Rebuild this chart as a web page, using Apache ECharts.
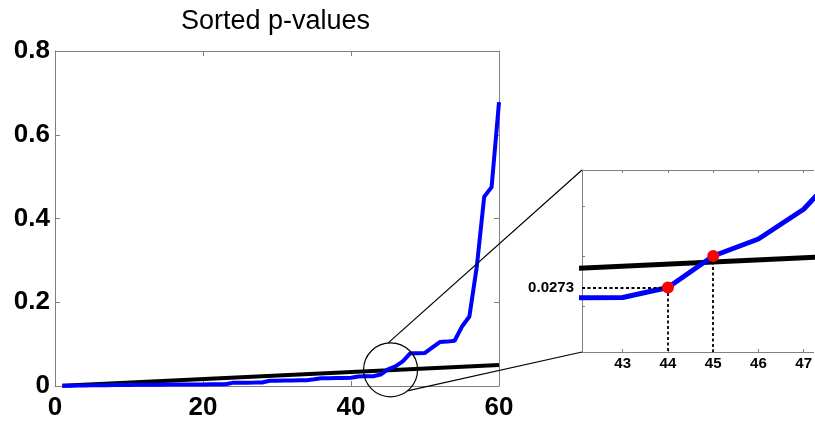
<!DOCTYPE html>
<html>
<head>
<meta charset="utf-8">
<script src="https://cdn.jsdelivr.net/npm/echarts@6/dist/echarts.min.js"></script>
<style>
  html, body { margin: 0; padding: 0; background: #fff; }
  #chart { width: 815px; height: 426px; }
</style>
</head>
<body>
<div id="chart"></div>
<script>
// sorted p-values, rank 1..60
var pValues = [
  0.0005, 0.0008, 0.0010, 0.0012, 0.0015, 0.0018, 0.0020, 0.0022, 0.0024, 0.0026,
  0.0028, 0.0030, 0.0031, 0.0032, 0.0033, 0.0034, 0.0035, 0.0036, 0.0037, 0.0038,
  0.0039, 0.0040, 0.0042, 0.0075, 0.0078, 0.0080, 0.0082, 0.0085, 0.0125, 0.0127,
  0.0130, 0.0132, 0.0135, 0.0138, 0.0160, 0.0185, 0.0187, 0.0190, 0.0192, 0.0195,
  0.0225, 0.0232, 0.0233, 0.0273, 0.0399, 0.0467, 0.0586, 0.0780, 0.0780, 0.0790,
  0.0920, 0.1050, 0.1060, 0.1080, 0.1420, 0.1660, 0.2850, 0.4520, 0.4750, 0.6780
];
// threshold line (two end points)
var thresholdLine = [[1, 0.0008], [60, 0.05]];
// the two highlighted points in the zoom panel
var highlightPoints = [[44, 0.0273], [45, 0.0399]];
var cutoffLabel = '0.0273';

var mainXRange = [0, 60];
var mainYRange = [0, 0.8];
var insetXRange = [42.1, 47.22];   // panel is cut off by the right edge of the picture
var insetYRange = [0.0015, 0.0743];
var insetXTicks = [43, 44, 45, 46, 47];
var insetYTicks = [0.02, 0.04, 0.06];
var zoomCenter = [45.35, 0.0387];

var FONT = 'Liberation Sans, Arial, Helvetica, sans-serif';
var BOX = '#808080';

var pairs = pValues.map(function (v, i) { return [i + 1, v]; });

var chart = echarts.init(document.getElementById('chart'));

function boxAxis(extra) {
  var base = {
    type: 'value',
    splitLine: { show: false },
    axisLine: { show: true, onZero: false, lineStyle: { color: BOX, width: 1 } },
    axisTick: { show: true, inside: true, length: 5, lineStyle: { color: BOX } },
    axisLabel: { show: false }
  };
  return Object.assign(base, extra);
}

var mainLabel = { show: true, color: '#000', fontSize: 26, fontWeight: 'bold', fontFamily: FONT };

var option = {
  animation: false,
  title: {
    text: 'Sorted p-values',
    left: 181,
    top: 8,
    padding: 0,
    textStyle: { fontSize: 27, fontWeight: 'normal', color: '#000', fontFamily: FONT }
  },
  grid: [
    { left: 55, top: 51, width: 444, height: 335 },
    { left: 582, top: 170, right: 0, height: 182 }
  ],
  xAxis: [
    boxAxis({ gridIndex: 0, position: 'bottom', min: mainXRange[0], max: mainXRange[1], interval: 20,
      axisLabel: Object.assign({ margin: 9 }, mainLabel) }),
    boxAxis({ gridIndex: 0, position: 'top', min: mainXRange[0], max: mainXRange[1], interval: 20 }),
    boxAxis({ gridIndex: 1, position: 'bottom', min: insetXRange[0], max: insetXRange[1],
      axisTick: { show: true, inside: true, length: 3, lineStyle: { color: BOX }, customValues: insetXTicks },
      axisLabel: { show: true, color: '#000', fontSize: 15, fontWeight: 'bold', fontFamily: FONT,
        margin: 4, customValues: insetXTicks } }),
    boxAxis({ gridIndex: 1, position: 'top', min: insetXRange[0], max: insetXRange[1],
      axisTick: { show: true, inside: true, length: 3, lineStyle: { color: BOX }, customValues: insetXTicks } })
  ],
  yAxis: [
    boxAxis({ gridIndex: 0, position: 'left', min: mainYRange[0], max: mainYRange[1], interval: 0.2,
      axisLabel: Object.assign({ margin: 5 }, mainLabel) }),
    boxAxis({ gridIndex: 0, position: 'right', min: mainYRange[0], max: mainYRange[1], interval: 0.2 }),
    boxAxis({ gridIndex: 1, position: 'left', min: insetYRange[0], max: insetYRange[1],
      axisTick: { show: true, inside: true, length: 3, lineStyle: { color: BOX }, customValues: insetYTicks } })
  ],
  series: [
    {
      name: 'threshold', type: 'line', xAxisIndex: 0, yAxisIndex: 0,
      data: thresholdLine, symbol: 'none', z: 2,
      lineStyle: { color: '#000', width: 4 }
    },
    {
      name: 'p-values', type: 'line', xAxisIndex: 0, yAxisIndex: 0,
      data: pairs, symbol: 'none', z: 3,
      lineStyle: { color: '#0000ff', width: 4 }
    },
    {
      name: 'threshold zoom', type: 'line', xAxisIndex: 2, yAxisIndex: 2,
      data: thresholdLine, symbol: 'none', z: 2, clip: true,
      lineStyle: { color: '#000', width: 5 }
    },
    {
      name: 'p-values zoom', type: 'line', xAxisIndex: 2, yAxisIndex: 2,
      data: pairs, symbol: 'none', z: 3, clip: true,
      lineStyle: { color: '#0000ff', width: 5 }
    },
    {
      name: 'guides', type: 'line', xAxisIndex: 2, yAxisIndex: 2, data: [], z: 4,
      markLine: {
        silent: true,
        symbol: 'none',
        animation: false,
        lineStyle: { color: '#000', width: 1.8, type: [3, 2.5] },
        label: { show: false },
        emphasis: { disabled: true },
        data: [
          [
            { coord: [insetXRange[0], highlightPoints[0][1]],
              label: { show: true, position: 'start', formatter: cutoffLabel, distance: 8,
                color: '#000', fontSize: 15, fontWeight: 'bold', fontFamily: FONT } },
            { coord: highlightPoints[0] }
          ],
          [{ coord: highlightPoints[0] }, { coord: [highlightPoints[0][0], insetYRange[0]] }],
          [{ coord: highlightPoints[1] }, { coord: [highlightPoints[1][0], insetYRange[0]] }]
        ]
      }
    },
    {
      name: 'points', type: 'scatter', xAxisIndex: 2, yAxisIndex: 2,
      data: highlightPoints, symbolSize: 12, z: 5,
      itemStyle: { color: '#ff0000', opacity: 1 }
    }
  ]
};

chart.setOption(option);

// zoom circle and connector lines, placed through the axes
var c = chart.convertToPixel({ xAxisIndex: 0, yAxisIndex: 0 }, zoomCenter);
var insetTop = chart.convertToPixel({ xAxisIndex: 2, yAxisIndex: 2 }, [insetXRange[0], insetYRange[1]]);
var insetBottom = chart.convertToPixel({ xAxisIndex: 2, yAxisIndex: 2 }, [insetXRange[0], insetYRange[0]]);
var r = 27;
var a1 = -95 * Math.PI / 180, a2 = 51.6 * Math.PI / 180;
var thin = { stroke: '#000', lineWidth: 1.2 };

chart.setOption({
  graphic: [
    { type: 'circle', shape: { cx: c[0], cy: c[1], r: r }, style: { fill: 'none', stroke: '#000', lineWidth: 1.2 }, z: 10, silent: true },
    { type: 'line', shape: { x1: c[0] + r * Math.cos(a1), y1: c[1] + r * Math.sin(a1), x2: insetTop[0], y2: insetTop[1] }, style: thin, z: 10, silent: true },
    { type: 'line', shape: { x1: c[0] + r * Math.cos(a2), y1: c[1] + r * Math.sin(a2), x2: insetBottom[0], y2: insetBottom[1] }, style: thin, z: 10, silent: true }
  ]
});
</script>
</body>
</html>
